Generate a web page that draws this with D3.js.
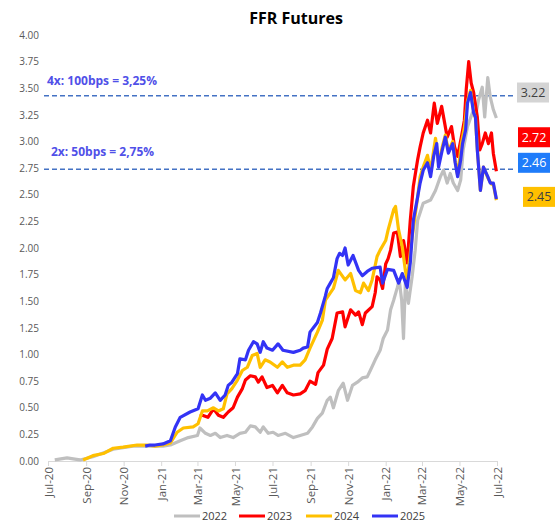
<!DOCTYPE html>
<html>
<head>
<meta charset="utf-8">
<script src="https://cdn.jsdelivr.net/npm/d3@7"></script>
<style>
  body { margin: 0; background: #fff; }
  svg { font-family: "Open Sans", "Liberation Sans", sans-serif; }
</style>
</head>
<body>
<svg id="chart" width="556" height="523"></svg>
<script>
// series data, [date, value]
var ffr2022 = [
  ["2020-07-12", 0.01], ["2020-08-01", 0.03], ["2020-08-11", 0.02], ["2020-08-22", 0.01],
  ["2020-09-12", 0.04], ["2020-10-15", 0.11], ["2020-11-16", 0.14], ["2020-12-14", 0.14],
  ["2021-01-04", 0.14], ["2021-01-16", 0.15], ["2021-02-01", 0.19], ["2021-02-14", 0.22],
  ["2021-03-01", 0.24], ["2021-03-05", 0.31], ["2021-03-14", 0.26], ["2021-03-22", 0.24],
  ["2021-03-30", 0.26], ["2021-04-07", 0.22], ["2021-04-18", 0.24], ["2021-04-28", 0.22],
  ["2021-05-09", 0.26], ["2021-05-18", 0.27], ["2021-05-26", 0.33], ["2021-06-03", 0.32],
  ["2021-06-11", 0.27], ["2021-06-16", 0.32], ["2021-06-24", 0.26], ["2021-07-02", 0.27],
  ["2021-07-10", 0.24], ["2021-07-22", 0.26], ["2021-08-04", 0.22], ["2021-08-15", 0.24],
  ["2021-08-27", 0.26], ["2021-09-04", 0.32], ["2021-09-12", 0.40], ["2021-09-20", 0.45],
  ["2021-09-28", 0.57], ["2021-10-03", 0.60], ["2021-10-08", 0.50], ["2021-10-16", 0.66],
  ["2021-10-24", 0.73], ["2021-10-31", 0.57], ["2021-11-08", 0.71], ["2021-11-16", 0.74],
  ["2021-11-24", 0.78], ["2021-12-02", 0.79], ["2021-12-07", 0.85], ["2021-12-15", 0.95],
  ["2021-12-23", 1.04], ["2021-12-28", 1.15], ["2022-01-04", 1.23], ["2022-01-09", 1.42],
  ["2022-01-14", 1.51], ["2022-01-20", 1.63], ["2022-01-23", 1.70], ["2022-01-27", 1.51],
  ["2022-01-30", 1.15], ["2022-02-02", 1.67], ["2022-02-07", 1.48], ["2022-02-13", 1.73],
  ["2022-02-18", 1.98], ["2022-02-22", 2.26], ["2022-03-03", 2.42], ["2022-03-15", 2.45],
  ["2022-03-23", 2.54], ["2022-03-31", 2.67], ["2022-04-05", 2.73], ["2022-04-11", 2.61],
  ["2022-04-16", 2.70], ["2022-04-21", 2.61], ["2022-04-28", 2.54], ["2022-05-03", 2.64],
  ["2022-05-07", 2.92], ["2022-05-14", 3.14], ["2022-05-22", 3.27], ["2022-05-27", 3.23],
  ["2022-06-01", 3.39], ["2022-06-07", 3.51], ["2022-06-11", 3.23], ["2022-06-16", 3.60],
  ["2022-06-20", 3.42], ["2022-06-25", 3.30], ["2022-06-30", 3.22]
];

var ffr2023 = [
  ["2021-03-05", 0.44], ["2021-03-09", 0.43], ["2021-03-18", 0.41], ["2021-03-27", 0.49],
  ["2021-04-04", 0.43], ["2021-04-12", 0.41], ["2021-04-20", 0.46], ["2021-04-28", 0.50],
  ["2021-05-05", 0.60], ["2021-05-13", 0.68], ["2021-05-18", 0.76], ["2021-05-26", 0.80],
  ["2021-06-03", 0.79], ["2021-06-08", 0.74], ["2021-06-14", 0.79], ["2021-06-22", 0.69],
  ["2021-07-01", 0.71], ["2021-07-09", 0.64], ["2021-07-17", 0.71], ["2021-07-25", 0.64],
  ["2021-08-04", 0.62], ["2021-08-15", 0.63], ["2021-08-23", 0.66], ["2021-08-31", 0.75],
  ["2021-09-09", 0.72], ["2021-09-13", 0.83], ["2021-09-22", 0.90], ["2021-09-28", 1.05],
  ["2021-10-06", 1.15], ["2021-10-14", 1.39], ["2021-10-23", 1.40], ["2021-10-27", 1.26],
  ["2021-11-05", 1.42], ["2021-11-13", 1.37], ["2021-11-18", 1.40], ["2021-11-24", 1.28],
  ["2021-11-29", 1.39], ["2021-12-10", 1.45], ["2021-12-15", 1.58], ["2021-12-18", 1.73],
  ["2021-12-23", 1.70], ["2021-12-27", 1.62], ["2022-01-01", 1.85], ["2022-01-05", 1.90],
  ["2022-01-09", 1.98], ["2022-01-14", 2.14], ["2022-01-20", 2.15], ["2022-01-25", 1.92],
  ["2022-01-30", 2.07], ["2022-02-05", 1.86], ["2022-02-10", 2.26], ["2022-02-15", 2.58],
  ["2022-02-22", 2.83], ["2022-02-26", 2.95], ["2022-03-03", 3.08], ["2022-03-10", 3.20],
  ["2022-03-15", 3.08], ["2022-03-21", 3.36], ["2022-03-26", 3.17], ["2022-04-02", 3.33],
  ["2022-04-07", 3.17], ["2022-04-11", 3.04], ["2022-04-18", 3.14], ["2022-04-23", 2.95],
  ["2022-04-28", 2.86], ["2022-05-04", 3.04], ["2022-05-09", 3.20], ["2022-05-12", 3.49],
  ["2022-05-16", 3.75], ["2022-05-20", 3.55], ["2022-05-24", 3.46], ["2022-05-30", 3.23],
  ["2022-06-03", 2.92], ["2022-06-07", 2.98], ["2022-06-12", 3.08], ["2022-06-17", 2.98],
  ["2022-06-22", 3.08], ["2022-06-25", 2.89], ["2022-06-30", 2.72]
];

var ffr2024 = [
  ["2020-08-27", 0.01], ["2020-09-12", 0.05], ["2020-09-29", 0.07], ["2020-10-15", 0.12],
  ["2020-10-31", 0.13], ["2020-11-23", 0.15], ["2020-12-09", 0.15], ["2020-12-22", 0.14],
  ["2021-01-04", 0.15], ["2021-01-16", 0.17], ["2021-01-27", 0.27], ["2021-02-06", 0.31],
  ["2021-02-22", 0.32], ["2021-03-02", 0.35], ["2021-03-09", 0.47], ["2021-03-17", 0.47],
  ["2021-03-27", 0.50], ["2021-04-04", 0.47], ["2021-04-12", 0.49], ["2021-04-18", 0.63],
  ["2021-04-26", 0.68], ["2021-05-05", 0.76], ["2021-05-13", 0.85], ["2021-05-21", 0.88],
  ["2021-05-29", 0.99], ["2021-06-06", 1.01], ["2021-06-11", 0.88], ["2021-06-19", 0.95],
  ["2021-06-27", 0.93], ["2021-07-09", 0.88], ["2021-07-17", 0.93], ["2021-07-25", 0.88],
  ["2021-08-04", 0.90], ["2021-08-15", 0.90], ["2021-08-23", 0.95], ["2021-08-31", 1.06],
  ["2021-09-12", 1.21], ["2021-09-20", 1.32], ["2021-09-25", 1.51], ["2021-10-08", 1.62],
  ["2021-10-16", 1.79], ["2021-10-27", 1.70], ["2021-11-05", 1.76], ["2021-11-13", 1.60],
  ["2021-11-21", 1.58], ["2021-11-26", 1.67], ["2021-12-04", 1.60], ["2021-12-10", 1.70],
  ["2021-12-18", 1.92], ["2021-12-23", 1.98], ["2022-01-01", 2.07], ["2022-01-05", 2.17],
  ["2022-01-14", 2.36], ["2022-01-17", 2.39], ["2022-01-22", 2.17], ["2022-01-28", 2.01],
  ["2022-02-02", 1.79], ["2022-02-05", 1.70], ["2022-02-13", 2.10], ["2022-02-22", 2.48],
  ["2022-02-26", 2.67], ["2022-03-03", 2.76], ["2022-03-10", 2.87], ["2022-03-15", 2.72],
  ["2022-03-23", 3.03], ["2022-03-28", 2.80], ["2022-04-03", 2.95], ["2022-04-08", 3.06],
  ["2022-04-13", 2.91], ["2022-04-20", 3.00], ["2022-04-24", 2.82], ["2022-04-28", 2.68],
  ["2022-05-04", 2.98], ["2022-05-09", 3.13], ["2022-05-14", 3.38], ["2022-05-19", 3.48],
  ["2022-05-24", 3.28], ["2022-05-27", 3.22], ["2022-05-30", 2.93], ["2022-06-04", 2.54],
  ["2022-06-09", 2.76], ["2022-06-16", 2.66], ["2022-06-22", 2.60], ["2022-06-25", 2.60],
  ["2022-06-30", 2.45]
];

var ffr2025 = [
  ["2020-12-06", 0.14], ["2020-12-14", 0.15], ["2020-12-22", 0.15], ["2021-01-04", 0.16],
  ["2021-01-16", 0.19], ["2021-01-24", 0.32], ["2021-02-01", 0.41], ["2021-02-17", 0.46],
  ["2021-03-02", 0.49], ["2021-03-09", 0.62], ["2021-03-14", 0.57], ["2021-03-22", 0.59],
  ["2021-03-30", 0.64], ["2021-04-07", 0.57], ["2021-04-15", 0.62], ["2021-04-20", 0.71],
  ["2021-04-26", 0.74], ["2021-05-05", 0.82], ["2021-05-09", 0.96], ["2021-05-18", 0.95],
  ["2021-05-23", 1.04], ["2021-05-31", 1.12], ["2021-06-06", 1.10], ["2021-06-11", 1.02],
  ["2021-06-16", 1.12], ["2021-06-22", 1.06], ["2021-07-01", 1.04], ["2021-07-10", 1.10],
  ["2021-07-18", 1.04], ["2021-08-04", 1.02], ["2021-08-15", 1.04], ["2021-08-20", 1.06],
  ["2021-08-27", 1.07], ["2021-08-31", 1.21], ["2021-09-12", 1.30], ["2021-09-17", 1.39],
  ["2021-09-25", 1.55], ["2021-09-28", 1.62], ["2021-10-03", 1.67], ["2021-10-08", 1.72],
  ["2021-10-14", 1.90], ["2021-10-18", 1.95], ["2021-10-23", 1.93], ["2021-10-27", 2.00],
  ["2021-11-01", 1.84], ["2021-11-09", 1.93], ["2021-11-18", 1.79], ["2021-11-24", 1.74],
  ["2021-12-02", 1.78], ["2021-12-10", 1.81], ["2021-12-23", 1.82], ["2021-12-27", 1.67],
  ["2022-01-04", 1.80], ["2022-01-14", 1.79], ["2022-01-22", 1.67], ["2022-01-28", 1.76],
  ["2022-02-05", 1.63], ["2022-02-10", 1.86], ["2022-02-15", 2.26], ["2022-02-22", 2.48],
  ["2022-02-26", 2.61], ["2022-03-03", 2.73], ["2022-03-10", 2.80], ["2022-03-15", 2.67],
  ["2022-03-20", 2.86], ["2022-03-25", 2.98], ["2022-03-28", 2.76], ["2022-04-03", 2.92],
  ["2022-04-08", 3.04], ["2022-04-13", 2.89], ["2022-04-20", 2.98], ["2022-04-24", 2.80],
  ["2022-04-28", 2.67], ["2022-05-03", 2.83], ["2022-05-06", 2.98], ["2022-05-11", 3.11],
  ["2022-05-14", 3.36], ["2022-05-19", 3.46], ["2022-05-24", 3.27], ["2022-05-27", 3.23],
  ["2022-05-30", 2.92], ["2022-06-04", 2.54], ["2022-06-09", 2.76], ["2022-06-16", 2.67],
  ["2022-06-20", 2.61], ["2022-06-25", 2.61], ["2022-06-30", 2.46]
];

var seriesNames = ["2022", "2023", "2024", "2025"];
var seriesColors = ["#bfbfbf", "#ff0000", "#ffc000", "#3333f5"];

// last value boxes: label, level it sits at, fill, text colour
var endLabels = ["3.22", "2.72", "2.46", "2.45"];
var endLabelLevels = [3.46, 3.04, 2.80, 2.48];
var endLabelFills = ["#d4d4d4", "#ff0000", "#1f7cfa", "#ffc000"];
var endLabelText = ["#404040", "#ffffff", "#ffffff", "#404040"];

// hike scenarios (dashed lines)
var hikeLabels = ["4x: 100bps = 3,25%", "2x: 50bps = 2,75%"];
var hikeLevels = [3.43, 2.74];

var yTicks = d3.range(0, 4.01, 0.25);

var svg = d3.select('#chart'),
	margin = {top: 35, right: 59, bottom: 62, left: 48},
	width = 556 - margin.left - margin.right,
	height = 523 - margin.top - margin.bottom;

var parseDate = d3.timeParse('%Y-%m-%d');

var x = d3.scaleTime()
	.domain([parseDate('2020-07-01'), parseDate('2022-07-01')])
	.range([margin.left, margin.left + width]);
var y = d3.scaleLinear()
	.domain([0, 4])
	.range([margin.top + height, margin.top]);

// Title
svg.append('text')
	.attr('x', 296)
	.attr('y', 24)
	.attr('text-anchor', 'middle')
	.style('font-size', '16px')
	.style('font-weight', 'bold')
	.style('fill', '#000')
	.text('FFR Futures');

// Y axis, labels only
var yAxis = svg.append('g')
	.attr('transform', 'translate(' + (margin.left - 6) + ',0)')
	.call(d3.axisLeft(y).tickValues(yTicks).tickFormat(d3.format('.2f')).tickSize(0));
yAxis.select('.domain').remove();
yAxis.selectAll('text')
	.style('font-size', '10px')
	.style('fill', '#595959')
	.style('font-family', '"Open Sans", sans-serif');

// X axis
var xAxis = svg.append('g')
	.attr('transform', 'translate(0,' + (margin.top + height) + ')')
	.call(d3.axisBottom(x).ticks(d3.timeMonth.every(2)).tickFormat(d3.timeFormat('%b-%y')).tickSize(5).tickSizeOuter(0));
xAxis.select('.domain').attr('stroke', '#d9d9d9');
xAxis.selectAll('.tick line').attr('stroke', '#d9d9d9');
xAxis.selectAll('text')
	.attr('transform', 'rotate(-90)')
	.attr('text-anchor', 'end')
	.attr('x', -6)
	.attr('y', 0)
	.attr('dy', '0.35em')
	.style('font-size', '11.5px')
	.style('fill', '#595959')
	.style('font-family', '"Open Sans", sans-serif');

// dashed hike lines + labels
hikeLevels.forEach(function(v, i) {
	svg.append('line')
		.attr('x1', margin.left - 4)
		.attr('x2', 516)
		.attr('y1', y(v))
		.attr('y2', y(v))
		.attr('stroke', '#4472c4')
		.attr('stroke-width', 1.5)
		.attr('stroke-dasharray', '5,3');
});
svg.append('text')
	.attr('x', 47)
	.attr('y', y(hikeLevels[0]) - 11)
	.style('font-size', '12px')
	.style('font-weight', 'bold')
	.style('fill', '#5050e8')
	.text(hikeLabels[0]);
svg.append('text')
	.attr('x', 51)
	.attr('y', y(hikeLevels[1]) - 13)
	.style('font-size', '12px')
	.style('font-weight', 'bold')
	.style('fill', '#5050e8')
	.text(hikeLabels[1]);

// Lines
var valueLine = d3.line()
	.x(function(d) { return x(parseDate(d[0])); })
	.y(function(d) { return y(d[1]); });

[ffr2022, ffr2023, ffr2024, ffr2025].forEach(function(data, i) {
	svg.append('path')
		.attr('d', valueLine(data))
		.attr('fill', 'none')
		.attr('stroke', seriesColors[i])
		.attr('stroke-width', 3.2)
		.attr('stroke-linejoin', 'round');
});

// End value boxes
var boxX = [517, 518, 518, 523];
endLabels.forEach(function(t, i) {
	var cy = y(endLabelLevels[i]);
	svg.append('rect')
		.attr('x', boxX[i])
		.attr('y', cy - 10)
		.attr('width', 32)
		.attr('height', 20)
		.attr('fill', endLabelFills[i]);
	svg.append('text')
		.attr('x', boxX[i] + 16)
		.attr('y', cy)
		.attr('dy', '0.35em')
		.attr('text-anchor', 'middle')
		.style('font-size', '12.5px')
		.style('fill', endLabelText[i])
		.text(t);
});

// Legend
var legendX = [174, 239, 306, 372];
seriesNames.forEach(function(name, i) {
	var lg = svg.append('g').attr('transform', 'translate(' + legendX[i] + ',516)');
	lg.append('line')
		.attr('x1', 0).attr('x2', 26)
		.attr('stroke', seriesColors[i])
		.attr('stroke-width', 3);
	lg.append('text')
		.attr('x', 28)
		.attr('dy', '0.35em')
		.style('font-size', '11px')
		.style('fill', '#404040')
		.text(name);
});
</script>
</body>
</html>
